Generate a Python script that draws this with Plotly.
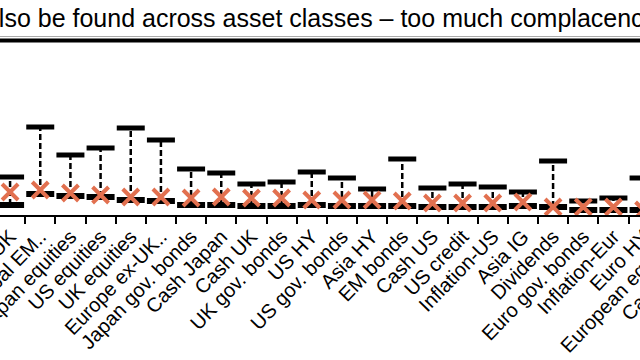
import plotly.graph_objects as go

# ---- data ----
categories = ["Inflation-UK", "Global EM..", "Japan equities", "US equities", "UK equities",
              "Europe ex-UK..", "Japan gov. bonds", "Cash Japan", "Cash UK", "UK gov. bonds",
              "US HY", "US gov. bonds", "Asia HY", "EM bonds", "Cash US", "US credit",
              "Inflation-US", "Asia IG", "Dividends", "Euro gov. bonds", "Inflation-Eur",
              "Euro HY", "European equities", "Cash Europe"]
range_max = [19, 44, 30, 33.5, 43.5, 37.5, 23, 21, 15.5, 16.5, 21.5, 18.5, 13, 28, 13.5, 15.5,
             14, 11.5, 27, 7, 8.5, 18.5, None, None]
range_min = [5, 10.5, 9.5, 9, 7.5, 7, 5, 5, 4.5, 4.5, 5, 4.5, 4.5, 4.5, 4, 4, 4, 4.5, 4,
             2.5, 2.5, 2.5, None, None]
current = [11.5, 12.5, 11, 10, 9, 9, 8.5, 9, 8.5, 8.5, 7.5, 7.5, 7.5, 7, 6, 6, 6, 6.5, 4,
           4, 4, 2.5, None, None]
title_text = "Low volatility can also be found across asset classes \u2013 too much complacency?"

# ---- layout geometry ----
W, H = 775, 360
ML, MR, MT, MB = 40, 11, 50, 145
SHIFT = 45  # page is a crop of the wider chart
plot_w = W - ML - MR
plot_h = H - MT - MB
FONT = "Liberation Sans, Arial, sans-serif"
ORANGE = "#E2704F"

# dashed connectors built from the data
lx, ly = [], []
for c, lo, hi in zip(categories, range_min, range_max):
    if lo is None or hi is None:
        continue
    lx += [c, c, None]
    ly += [lo, hi, None]

fig = go.Figure()
fig.add_trace(go.Scatter(x=lx, y=ly, mode="lines",
                         line=dict(color="black", width=2.5, dash="6px,3px"),
                         hoverinfo="skip", showlegend=False))
fig.add_trace(go.Scatter(x=categories, y=range_max, mode="markers",
                         marker=dict(symbol="line-ew", size=20,
                                     line=dict(color="black", width=5)),
                         showlegend=False, name="Max"))
fig.add_trace(go.Scatter(x=categories, y=range_min, mode="markers",
                         marker=dict(symbol="line-ew", size=20,
                                     line=dict(color="black", width=6)),
                         showlegend=False, name="Min"))
fig.add_trace(go.Scatter(x=categories, y=current, mode="markers",
                         marker=dict(symbol="x-thin", size=16,
                                     line=dict(color=ORANGE, width=4)),
                         showlegend=False, name="Current"))

def px_to_paper_x(page_x):
    return (page_x + SHIFT - ML) / plot_w

def py_to_paper_y(page_y):
    return (H - MB - page_y) / plot_h

fig.update_layout(
    width=W, height=H,
    margin=dict(l=ML, r=MR, t=MT, b=MB, autoexpand=False),
    paper_bgcolor="white", plot_bgcolor="white",
    font=dict(family=FONT, color="black"),
    xaxis=dict(type="category", categoryorder="array", categoryarray=categories,
               range=[-0.5, len(categories) - 0.5], automargin=False,
               showline=True, linecolor="black", linewidth=2,
               ticks="outside", tickson="boundaries", ticklen=7, tickwidth=2,
               tickcolor="black", tickangle=-46,
               tickfont=dict(family=FONT, size=20, color="black"),
               showgrid=False, zeroline=False),
    yaxis=dict(range=[0, plot_h / 2], visible=False, showgrid=False, zeroline=False,
               automargin=False),
    annotations=[dict(text=title_text, xref="paper", yref="paper",
                      x=px_to_paper_x(-213), y=py_to_paper_y(18),
                      xanchor="left", yanchor="middle", showarrow=False,
                      font=dict(family=FONT, size=25, color="black"))],
    shapes=[
        dict(type="line", xref="paper", yref="paper", x0=-1, x1=2,
             y0=py_to_paper_y(36.5), y1=py_to_paper_y(36.5),
             line=dict(color="#aaaaaa", width=1)),
        dict(type="line", xref="paper", yref="paper", x0=-1, x1=2,
             y0=py_to_paper_y(40.5), y1=py_to_paper_y(40.5),
             line=dict(color="black", width=4)),
    ],
)

post = ("document.body.style.margin='0';document.body.style.overflow='hidden';"
        "var d=document.getElementById('{plot_id}');d.style.position='absolute';"
        "d.style.left='-" + str(SHIFT) + "px';d.style.top='0px';")
fig.write_html("out.html", post_script=post, config={"displayModeBar": False})
